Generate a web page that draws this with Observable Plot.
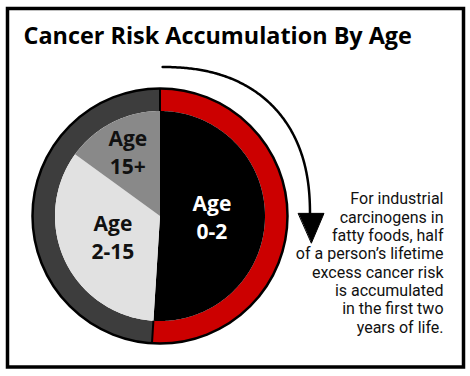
<!DOCTYPE html>
<html><head><meta charset="utf-8">
<script src="https://cdn.jsdelivr.net/npm/d3@7"></script>
<script src="https://cdn.jsdelivr.net/npm/@observablehq/plot@0.6"></script>
<style>
html,body{margin:0;padding:0;background:#fff;}
#chart svg{display:block;}
</style></head><body><div id="chart"></div>
<script>
// ---- data ----
const title = "Cancer Risk Accumulation By Age";
const ageGroups = ["Age 0-2", "Age 2-15", "Age 15+"];
const labelTop = ["Age", "Age", "Age"];
const labelBottom = ["0-2", "2-15", "15+"];
const riskShare = [51, 34, 15];            // % of lifetime excess cancer risk
const ringGroups = ["First two years", "Rest of life"];
const ringShare = [51, 49];
const noteLines = [
  "For industrial",
  "carcinogens in",
  "fatty foods, half",
  "of a person\u2019s lifetime",
  "excess cancer risk",
  "is accumulated",
  "in the first two",
  "years of life."
];

// ---- layout ----
const W = 470, H = 376;
const CX = 159.5, CY = 215.5;
const R_OUT = 127.5, R_IN = 105;

function slices(groups, shares) {
  const total = d3.sum(shares);
  let acc = 0;
  return groups.map((g, i) => {
    const a0 = acc / total * 360; acc += shares[i];
    const a1 = acc / total * 360;
    return {group: g, a0, a1, mid: (a0 + a1) / 2, share: shares[i] / total, i};
  });
}
function polar(a, r) { const t = a * Math.PI / 180; return [r * Math.sin(t), -r * Math.cos(t)]; }
function sector(s, r0, r1) {
  const pts = [];
  const n = Math.max(2, Math.ceil(s.a1 - s.a0));
  for (let k = 0; k <= n; k++) { const [x, y] = polar(s.a0 + (s.a1 - s.a0) * k / n, r1); pts.push({group: s.group, x, y}); }
  if (r0 > 0) for (let k = n; k >= 0; k--) { const [x, y] = polar(s.a0 + (s.a1 - s.a0) * k / n, r0); pts.push({group: s.group, x, y}); }
  else pts.push({group: s.group, x: 0, y: 0});
  return pts;
}

const pieSlices = slices(ageGroups, riskShare);
const ringSlices = slices(ringGroups, ringShare);
const piePts = pieSlices.flatMap(s => sector(s, 0, R_IN));
const ringPts = ringSlices.flatMap(s => sector(s, R_IN, R_OUT));
const dividers = ringSlices.map(s => { const [x1, y1] = polar(s.a0, R_IN); const [x2, y2] = polar(s.a0, R_OUT); return {x1, y1, x2, y2}; });

// curved arrow (superellipse quarter) following the red ring
const AX = 150, AY = 149, AN = 2.35;
const arrowPts = d3.range(0.5, 89.6, 0.5).map(t => {
  const r = t * Math.PI / 180;
  return {x: AX * Math.pow(Math.sin(r), 2 / AN), y: -AY * Math.pow(Math.cos(r), 2 / AN)};
});
const tip = arrowPts[arrowPts.length - 1];
const head = [
  {x: tip.x - 11.5, y: tip.y}, {x: tip.x + 14, y: tip.y}, {x: tip.x + 1.5, y: tip.y + 29.5}
];

// small slices get their label pushed further out
const labels = pieSlices.map(s => {
  const [x, y] = polar(s.mid, s.share < 0.2 ? 71 : 52);
  return {x, y: y - 2, text: labelTop[s.i] + "\n" + labelBottom[s.i], group: s.group};
});

const chart = Plot.plot({
  width: W, height: H, margin: 0,
  x: {domain: [-CX, W - CX], range: [0, W], axis: null},
  y: {domain: [-CY, H - CY], range: [0, H], axis: null},
  color: {domain: [...ageGroups, ...ringGroups], range: ["#000000", "#e1e1e1", "#898989", "#cc0000", "#3d3d3d"]},
  style: {background: "#fff", overflow: "visible"},
  marks: [
    Plot.frame({stroke: "#000", strokeWidth: 3.5, insetLeft: 7, insetTop: 8, insetRight: 7, insetBottom: 9.5}),
    Plot.text([title], {frameAnchor: "top-left", dx: 23, dy: 43.5, lineAnchor: "bottom", textAnchor: "start",
      fontFamily: "Open Sans", fontWeight: 700, fontSize: 23.4, fill: "#000"}),
    Plot.line(ringPts, {x: "x", y: "y", z: "group", fill: "group", stroke: null, curve: "linear-closed"}),
    Plot.line(piePts, {x: "x", y: "y", z: "group", fill: "group", stroke: null, curve: "linear-closed"}),
    Plot.link(dividers, {x1: "x1", y1: "y1", x2: "x2", y2: "y2", stroke: "#000", strokeWidth: 2}),
    Plot.dot([0], {x: () => 0, y: () => 0, r: R_OUT, stroke: "#000", strokeWidth: 2.5, fill: "none"}),
    Plot.text(labels, {x: "x", y: "y", text: "text", lineAnchor: "middle", lineHeight: 1.33,
      fontFamily: "Open Sans", fontWeight: 700, fontSize: 21,
      fill: d => d.group === "Age 0-2" ? "#fff" : "#111"}),
    Plot.line(arrowPts, {x: "x", y: "y", stroke: "#000", strokeWidth: 2.5}),
    Plot.line(head, {x: "x", y: "y", fill: "#000", stroke: "#000", strokeWidth: 1, curve: "linear-closed"}),
    Plot.text([noteLines.join("\n")], {frameAnchor: "top-right", dx: -27, dy: 332, lineAnchor: "bottom",
      textAnchor: "end", lineHeight: 18.3 / 16, fontFamily: "Roboto", fontSize: 16, fill: "#111"})
  ]
});
document.getElementById("chart").appendChild(chart);
</script>
</body></html>
